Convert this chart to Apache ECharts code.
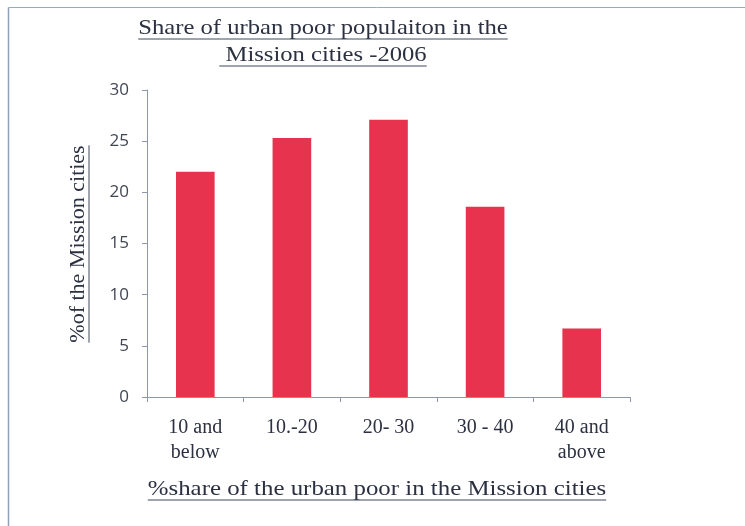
<!DOCTYPE html>
<html>
<head>
<meta charset="utf-8">
<style type="text/css">
html, body { margin: 0; padding: 0; background: #fff; }
#main { width: 745px; height: 526px; }
</style>
<script src="https://cdn.jsdelivr.net/npm/echarts@6/dist/echarts.min.js"></script>
</head>
<body>
<div id="main"></div>
<script>
var categories = ['10 and\nbelow', '10.-20', '20- 30', '30 - 40', '40 and\nabove'];
var shareValues = [22, 25.3, 27.1, 18.6, 6.7];
var yTicks = [0, 5, 10, 15, 20, 25, 30];

var titleLines = ['Share of urban poor populaiton in the', ' Mission cities -2006'];
var yName = '%of the Mission cities';
var xName = '%share of the urban poor in the Mission cities';

var serif = '"Liberation Serif", "DejaVu Serif", serif';
var ink = '#2b3140';

// width of a string, for the underlines
function textWidth(str, size) {
    var c = document.createElement('canvas').getContext('2d');
    c.font = size + 'px ' + serif;
    return c.measureText(str).width;
}

// text with an underline; sx stretches it sideways like the scanned original
function underlined(text, cx, cy, size, sx, rotate) {
    var w = textWidth(text, size) * sx;
    var off = size * 0.5;
    var els = [{
        type: 'text',
        x: cx, y: cy,
        scaleX: sx,
        rotation: rotate ? Math.PI / 2 : 0,
        style: {
            text: text, font: size + 'px ' + serif, fill: ink,
            textAlign: 'center', textVerticalAlign: 'middle'
        }
    }];
    if (rotate) {
        els.push({
            type: 'line',
            shape: { x1: cx + off, y1: cy - w / 2, x2: cx + off, y2: cy + w / 2 },
            style: { stroke: '#3c4a5c', lineWidth: 1 }
        });
    } else {
        els.push({
            type: 'line',
            shape: { x1: cx - w / 2, y1: cy + off, x2: cx + w / 2, y2: cy + off },
            style: { stroke: '#3c4a5c', lineWidth: 1 }
        });
    }
    return els;
}

var chart = echarts.init(document.getElementById('main'));

var graphics = [
    // frame (top and left edges only, as in the scan)
    { type: 'line', shape: { x1: 8.5, y1: 7.5, x2: 745, y2: 7.5 }, style: { stroke: '#8fb0b8', lineWidth: 1 } },
    { type: 'line', shape: { x1: 8.5, y1: 7.5, x2: 8.5, y2: 526 }, style: { stroke: '#8f9fb8', lineWidth: 1.5 } }
];
graphics = graphics
    .concat(underlined(titleLines[0], 323, 28, 22, 1.12, false))
    .concat(underlined(titleLines[1], 323, 55, 22, 1.12, false))
    .concat(underlined(yName, 78, 244, 22, 1.0, true))
    .concat(underlined(xName, 377, 489, 22, 1.13, false));

var option = {
    backgroundColor: '#fff',
    animation: false,
    grid: {
        left: 147,
        right: 115,
        top: 90,
        bottom: 129
    },
    xAxis: {
        type: 'category',
        data: categories,
        axisLine: { lineStyle: { color: '#8a97ad', width: 1 } },
        axisTick: { show: true, length: 5, lineStyle: { color: '#8a97ad' } },
        axisLabel: {
            margin: 18,
            fontFamily: serif,
            fontSize: 20,
            lineHeight: 25,
            color: ink
        }
    },
    yAxis: {
        type: 'value',
        min: yTicks[0],
        max: yTicks[yTicks.length - 1],
        interval: 5,
        axisLine: { show: true, lineStyle: { color: '#8a97ad', width: 1 } },
        axisTick: { show: true, length: 5, lineStyle: { color: '#8a97ad' } },
        splitLine: { show: false },
        axisLabel: {
            margin: 18,
            fontFamily: '"Open Sans", "DejaVu Sans", sans-serif',
            fontSize: 17,
            color: '#404652'
        }
    },
    series: [{
        type: 'bar',
        data: shareValues,
        barWidth: '40%',
        itemStyle: { color: '#e8334e' }
    }],
    graphic: graphics
};
chart.setOption(option);
</script>
</body>
</html>
